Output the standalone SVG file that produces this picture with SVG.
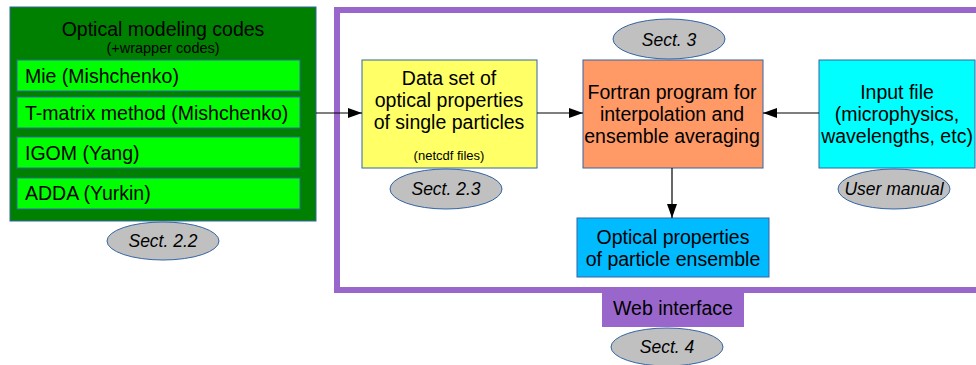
<svg xmlns="http://www.w3.org/2000/svg" width="976" height="365" viewBox="0 0 976 365">
<defs>
<style>
text{font-family:"Liberation Sans",Arial,sans-serif;fill:#000}
.t{font-size:19.5px;text-anchor:middle}
.l{font-size:19.5px}
.s{font-size:17.5px;font-style:italic;text-anchor:middle}
.box{stroke:#3465a4;stroke-width:1}
.ell{fill:#c0c0c0;stroke:#3465a4;stroke-width:1}
.con{stroke:#000;stroke-width:1.2;fill:none;marker-end:url(#ah)}
</style>
<marker id="ah" viewBox="0 0 14 10" refX="14" refY="5" markerWidth="14" markerHeight="10" markerUnits="userSpaceOnUse" orient="auto">
<path d="M0,0 L14,5 L0,10 Z" fill="#000"/>
</marker>
</defs>
<rect width="976" height="365" fill="#fff"/>
<g id="web-frame">
<rect x="337" y="10" width="700" height="280" fill="none" stroke="#9966cc" stroke-width="6"/>
<rect x="602" y="287" width="142" height="40" fill="#9966cc"/>
<text class="t" x="673" y="315">Web interface</text>
</g>
<g id="optical-codes">
<rect class="box" x="10" y="7" width="306" height="214" fill="#008000"/>
<text class="t" x="163" y="36">Optical modeling codes</text>
<text x="163" y="53" style="font-size:14.5px;text-anchor:middle">(+wrapper codes)</text>
</g>
<g id="mie">
<rect class="box" x="17" y="60" width="283" height="31" fill="#00ff00"/>
<text class="l" x="25" y="83">Mie (Mishchenko)</text>
</g>
<g id="tmatrix">
<rect class="box" x="17" y="97" width="283" height="31" fill="#00ff00"/>
<text class="l" x="25" y="120">T-matrix method (Mishchenko)</text>
</g>
<g id="igom">
<rect class="box" x="17" y="137" width="283" height="31" fill="#00ff00"/>
<text class="l" x="25" y="160">IGOM (Yang)</text>
</g>
<g id="adda">
<rect class="box" x="17" y="178" width="283" height="31" fill="#00ff00"/>
<text class="l" x="25" y="200">ADDA (Yurkin)</text>
</g>
<g id="sect22">
<ellipse class="ell" cx="163" cy="241" rx="56" ry="19"/>
<text class="s" x="163" y="247">Sect. 2.2</text>
</g>
<g id="dataset">
<rect class="box" x="362" y="60" width="175" height="108" fill="#ffff66"/>
<text class="t" x="449" y="85">Data set of</text>
<text class="t" x="449" y="107">optical properties</text>
<text class="t" x="449" y="129">of single particles</text>
<text x="449" y="160" style="font-size:13px;text-anchor:middle">(netcdf files)</text>
</g>
<g id="sect23">
<ellipse class="ell" cx="446" cy="189" rx="56" ry="20"/>
<text class="s" x="446" y="195">Sect. 2.3</text>
</g>
<g id="fortran">
<rect class="box" x="583" y="60" width="180" height="108" fill="#ff9966"/>
<text class="t" x="672" y="99">Fortran program for</text>
<text class="t" x="672" y="121">interpolation and</text>
<text class="t" x="672" y="143">ensemble averaging</text>
</g>
<g id="sect3">
<ellipse class="ell" cx="669" cy="39" rx="56" ry="20"/>
<text class="s" x="669" y="46">Sect. 3</text>
</g>
<g id="input">
<rect class="box" x="819" y="60" width="156" height="108" fill="#00ffff"/>
<text class="t" x="897" y="99">Input file</text>
<text class="t" x="897" y="121">(microphysics,</text>
<text class="t" x="897" y="143">wavelengths, etc)</text>
</g>
<g id="usermanual">
<ellipse class="ell" cx="894" cy="189" rx="56" ry="20"/>
<text class="s" x="894" y="195">User manual</text>
</g>
<g id="ensemble">
<rect class="box" x="577" y="218" width="192" height="59" fill="#00bbff"/>
<text class="t" x="673" y="244">Optical properties</text>
<text class="t" x="673" y="266">of particle ensemble</text>
</g>
<g id="sect4">
<ellipse class="ell" cx="667" cy="347" rx="56" ry="19"/>
<text class="s" x="667" y="353">Sect. 4</text>
</g>
<g id="connectors">
<path class="con" d="M316,113 L362,113"/>
<path class="con" d="M537,113 L583,113"/>
<path class="con" d="M819,113 L763,113"/>
<path class="con" d="M672,168 L672,218"/>
</g>
</svg>
